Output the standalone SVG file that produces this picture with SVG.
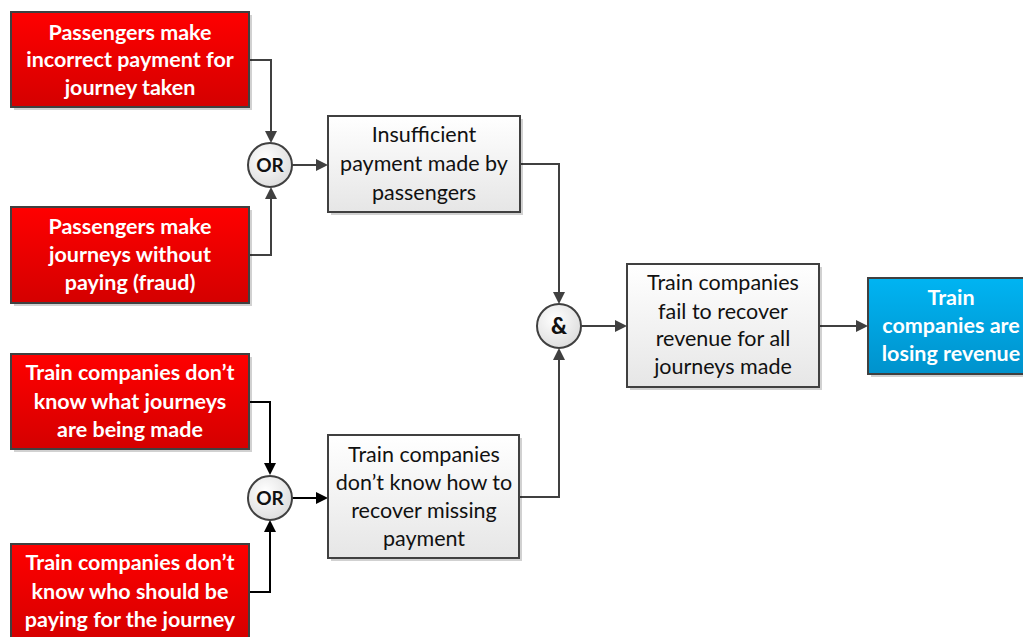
<svg xmlns="http://www.w3.org/2000/svg" width="1023" height="637" viewBox="0 0 1023 637">
  <defs>
    <linearGradient id="gRed" x1="0" y1="0" x2="0" y2="1">
      <stop offset="0" stop-color="#ff0000"/>
      <stop offset="1" stop-color="#d40000"/>
    </linearGradient>
    <linearGradient id="gGray" x1="0" y1="0" x2="0" y2="1">
      <stop offset="0" stop-color="#ffffff"/>
      <stop offset="1" stop-color="#e6e6e6"/>
    </linearGradient>
    <linearGradient id="gBlue" x1="0" y1="0" x2="0" y2="1">
      <stop offset="0" stop-color="#00b4f2"/>
      <stop offset="1" stop-color="#0092cc"/>
    </linearGradient>
    <radialGradient id="gGate" cx="0.4" cy="0.35" r="0.7">
      <stop offset="0" stop-color="#ffffff"/>
      <stop offset="1" stop-color="#dcdcdc"/>
    </radialGradient>
  </defs>
  <style>
    .shadow { fill: #000; opacity: 0.18; }
    .box { stroke: #404040; stroke-width: 2; }
    .red { fill: url(#gRed); }
    .gray { fill: url(#gGray); }
    .blue { fill: url(#gBlue); }
    .gate { fill: url(#gGate); stroke: #404040; stroke-width: 2; }
    .tw { font-family: Lato, "Open Sans", "Liberation Sans", sans-serif; font-weight: bold; font-size: 21.5px; fill: #ffffff; text-anchor: middle; }
    .tk { font-family: Lato, "Open Sans", "Liberation Sans", sans-serif; font-size: 21.5px; fill: #111111; text-anchor: middle; }
    .tg { font-family: Lato, "Open Sans", "Liberation Sans", sans-serif; font-weight: bold; font-size: 19px; fill: #111111; text-anchor: middle; }
    .amp { font-size: 22px; font-weight: 900; }
    .cg { fill: none; stroke: #404040; stroke-width: 2; }
    .ck { fill: none; stroke: #000000; stroke-width: 2; }
    .hg { fill: #404040; }
    .hk { fill: #000000; }
  </style>

  <!-- connectors -->
  <g id="connectors">
    <path class="cg" d="M249,60 H271 V134" />
    <path class="hg" d="M265,131 L271,143 L277,131 z"/>
    <path class="cg" d="M249,255 H271 V196" />
    <path class="hg" d="M265,199 L271,187 L277,199 z"/>
    <path class="cg" d="M292,165 H319" />
    <path class="hg" d="M316,159 L328,165 L316,171 z"/>

    <path class="ck" d="M249,402 H270 V466" />
    <path class="hk" d="M264,463 L270,475 L276,463 z"/>
    <path class="ck" d="M249,592 H270 V529" />
    <path class="hk" d="M264,532 L270,520 L276,532 z"/>
    <path class="ck" d="M292,498 H319" />
    <path class="hk" d="M316,492 L328,498 L316,504 z"/>

    <path class="cg" d="M520,164 H559 V295" />
    <path class="hg" d="M553,292 L559,304 L565,292 z"/>
    <path class="cg" d="M520,497 H559 V357" />
    <path class="hg" d="M553,360 L559,348 L565,360 z"/>
    <path class="cg" d="M581,326 H618" />
    <path class="hg" d="M615,320 L627,326 L615,332 z"/>
    <path class="cg" d="M819,326 H859" />
    <path class="hg" d="M856,320 L868,326 L856,332 z"/>
  </g>

  <!-- cause: incorrect payment -->
  <g id="n-incorrect-payment">
    <rect class="shadow" x="14" y="15" width="238" height="95"/>
    <rect class="box red" x="11" y="12" width="238" height="95"/>
    <text class="tw" x="130" y="40">Passengers make</text>
    <text class="tw" x="130" y="67">incorrect payment for</text>
    <text class="tw" x="130" y="95">journey taken</text>
  </g>

  <!-- cause: fraud -->
  <g id="n-fraud">
    <rect class="shadow" x="14" y="210" width="238" height="96"/>
    <rect class="box red" x="11" y="207" width="238" height="96"/>
    <text class="tw" x="130" y="234">Passengers make</text>
    <text class="tw" x="130" y="262">journeys without</text>
    <text class="tw" x="130" y="290">paying (fraud)</text>
  </g>

  <!-- cause: unknown journeys -->
  <g id="n-unknown-journeys">
    <rect class="shadow" x="14" y="357" width="238" height="95"/>
    <rect class="box red" x="11" y="354" width="238" height="95"/>
    <text class="tw" x="130" y="380">Train companies don’t</text>
    <text class="tw" x="130" y="409">know what journeys</text>
    <text class="tw" x="130" y="437">are being made</text>
  </g>

  <!-- cause: unknown payer -->
  <g id="n-unknown-payer">
    <rect class="box red" x="11" y="544" width="238" height="100"/>
    <text class="tw" x="130" y="570">Train companies don’t</text>
    <text class="tw" x="130" y="599">know who should be</text>
    <text class="tw" x="130" y="627">paying for the journey</text>
  </g>

  <!-- OR gate (upper) -->
  <g id="g-or-1">
    <circle class="gate" cx="270" cy="165" r="22"/>
    <text class="tg" x="270" y="172">OR</text>
  </g>

  <!-- OR gate (lower) -->
  <g id="g-or-2">
    <circle class="gate" cx="270" cy="498" r="22"/>
    <text class="tg" x="270" y="505">OR</text>
  </g>

  <!-- intermediate: insufficient payment -->
  <g id="n-insufficient-payment">
    <rect class="shadow" x="331" y="119" width="192" height="96"/>
    <rect class="box gray" x="328" y="116" width="192" height="96"/>
    <text class="tk" x="424" y="142">Insufficient</text>
    <text class="tk" x="424" y="171">payment made by</text>
    <text class="tk" x="424" y="200">passengers</text>
  </g>

  <!-- intermediate: recovery unknown -->
  <g id="n-recovery-unknown">
    <rect class="shadow" x="331" y="438" width="191" height="123"/>
    <rect class="box gray" x="328" y="435" width="191" height="123"/>
    <text class="tk" x="424" y="462">Train companies</text>
    <text class="tk" x="424" y="490">don’t know how to</text>
    <text class="tk" x="424" y="518">recover missing</text>
    <text class="tk" x="424" y="546">payment</text>
  </g>

  <!-- AND gate -->
  <g id="g-and">
    <circle class="gate" cx="559" cy="326" r="22"/>
    <text class="tg amp" x="559" y="334">&amp;</text>
  </g>

  <!-- intermediate: failure to recover -->
  <g id="n-fail-recover">
    <rect class="shadow" x="630" y="267" width="192" height="123"/>
    <rect class="box gray" x="627" y="264" width="192" height="123"/>
    <text class="tk" x="723" y="290">Train companies</text>
    <text class="tk" x="723" y="319">fail to recover</text>
    <text class="tk" x="723" y="346">revenue for all</text>
    <text class="tk" x="723" y="374">journeys made</text>
  </g>

  <!-- top event -->
  <g id="n-losing-revenue">
    <rect class="shadow" x="871" y="281" width="170" height="96"/>
    <rect class="box blue" x="868" y="278" width="170" height="96"/>
    <text class="tw" x="951" y="305">Train</text>
    <text class="tw" x="951" y="333">companies are</text>
    <text class="tw" x="951" y="361">losing revenue</text>
  </g>
</svg>
